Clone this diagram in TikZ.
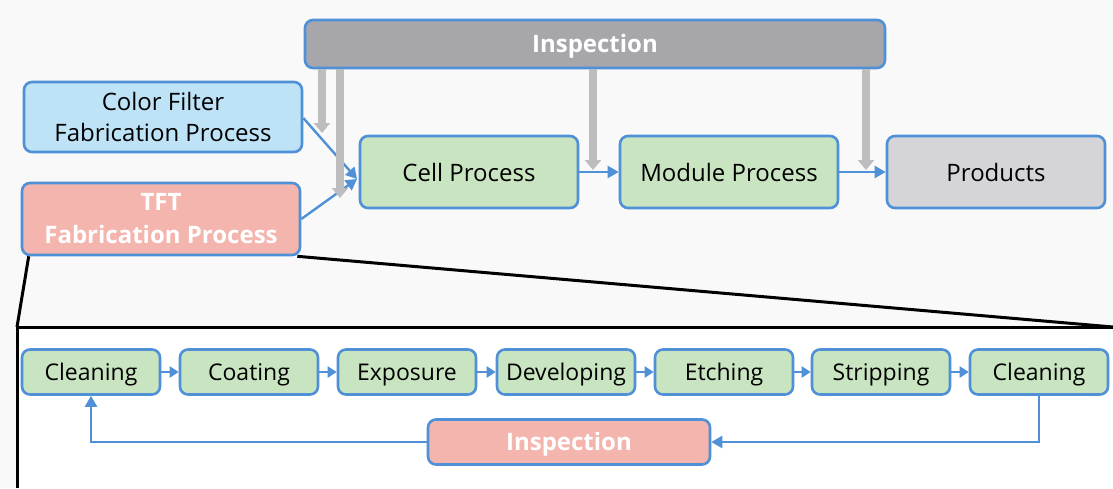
\documentclass[tikz,border=0pt]{standalone}
\usepackage{fontspec}
\setmainfont{Open Sans}
\usetikzlibrary{arrows.meta}
\definecolor{bord}{HTML}{4F90D6}
\definecolor{greenfill}{HTML}{C9E4C1}
\definecolor{bluefill}{HTML}{BEE3F6}
\definecolor{pinkfill}{HTML}{F3B5AD}
\definecolor{darkgray}{HTML}{A7A6AA}
\definecolor{lightgray}{HTML}{D5D5D9}
\definecolor{shaft}{HTML}{BDBDBF}
\definecolor{bg}{HTML}{F9F9FA}
\tikzset{
  box/.style={draw=bord, line width=2.6pt, rounded corners=8pt, align=center,
    font=\fontsize{24}{31}\selectfont, inner sep=2pt},
  boldtext/.style={text=white, font=\fontsize{24}{33}\selectfont\bfseries},
  lowtext/.style={text height=22pt, text depth=5pt},
  bigbox/.style={box, minimum width=218pt, minimum height=72pt},
  smallbox/.style={box, lowtext, fill=greenfill, minimum width=138pt, minimum height=45pt,
    font=\fontsize{23}{28}\selectfont},
  flow/.style={draw=bord, line width=2.4pt, -{Triangle[length=11pt,width=12pt]}},
  feed/.style={draw=shaft, line width=8pt, -{Triangle[length=10pt,width=16pt]}},
  zoomline/.style={draw=black, line width=3pt},
}
\begin{document}
\begin{tikzpicture}[x=1pt,y=-1pt]
\fill[bg] (0,0) rectangle (1113,488);
\useasboundingbox (0,0) rectangle (1113,488);

% detail frame
\fill[white] (17,327) rectangle (1113,488);
\coordinate (fbl) at (17,488);
\coordinate (ftl) at (17,327);
\coordinate (ftr) at (1113,327);
\draw[zoomline] (fbl) -- (ftl) -- (ftr);

% upper flow
\node[box, boldtext, lowtext, fill=darkgray, minimum width=580pt, minimum height=48pt] (insp) at (595,44)
  {Inspection};
\node[bigbox, fill=bluefill, minimum width=278pt, minimum height=70pt] (cf) at (163,117)
  {Color Filter\\Fabrication Process};
\node[bigbox, boldtext, fill=pinkfill, minimum width=278pt, minimum height=72pt] (tft) at (161,219)
  {TFT\\Fabrication Process};
\node[bigbox, fill=greenfill] (cell) at (469,172) {Cell Process};
\node[bigbox, fill=greenfill] (module) at (729,172) {Module Process};
\node[bigbox, fill=lightgray] (prod) at (996,172) {Products};

% magnifier lines
\draw[zoomline] (tft.south west) ++(8,0) -- (ftl);
\draw[zoomline] (tft.south east) ++(-4,0) -- (ftr);

% material flow
\coordinate (cin) at (357,179);
\draw[flow] (cf.east |- 0,118) -- (cin);
\draw[flow] (tft.east |- 0,219) -- (cin);
\draw[flow] (cell) -- (module);
\draw[flow] (module) -- (prod);

% inspection feeds
\coordinate (f1) at (322,133);
\coordinate (f2) at (340,198);
\coordinate (f3) at (593,170);
\coordinate (f4) at (866,170);
\foreach \f in {f1,f2,f3,f4}
  \draw[feed] (insp.south -| \f) -- (\f);

% detailed TFT steps
\node[smallbox] (s1) at (91,372) {Cleaning};
\node[smallbox] (s2) at (249,372) {Coating};
\node[smallbox] (s3) at (407,372) {Exposure};
\node[smallbox] (s4) at (566,372) {Developing};
\node[smallbox] (s5) at (724,372) {Etching};
\node[smallbox] (s6) at (881,372) {Stripping};
\node[smallbox] (s7) at (1039,372) {Cleaning};
\node[box, boldtext, lowtext, fill=pinkfill, minimum width=282pt, minimum height=45pt] (insp2) at (569,442)
  {Inspection};

\tikzset{stepflow/.style={flow, -{Triangle[length=9pt,width=11pt]}}}
\foreach \a/\b in {s1/s2,s2/s3,s3/s4,s4/s5,s5/s6,s6/s7}
  \draw[stepflow] (\a) -- (\b);
\draw[flow] (s7.south) |- (insp2.east);
\draw[flow] (insp2.west) -| (s1.south);
\end{tikzpicture}
\end{document}
